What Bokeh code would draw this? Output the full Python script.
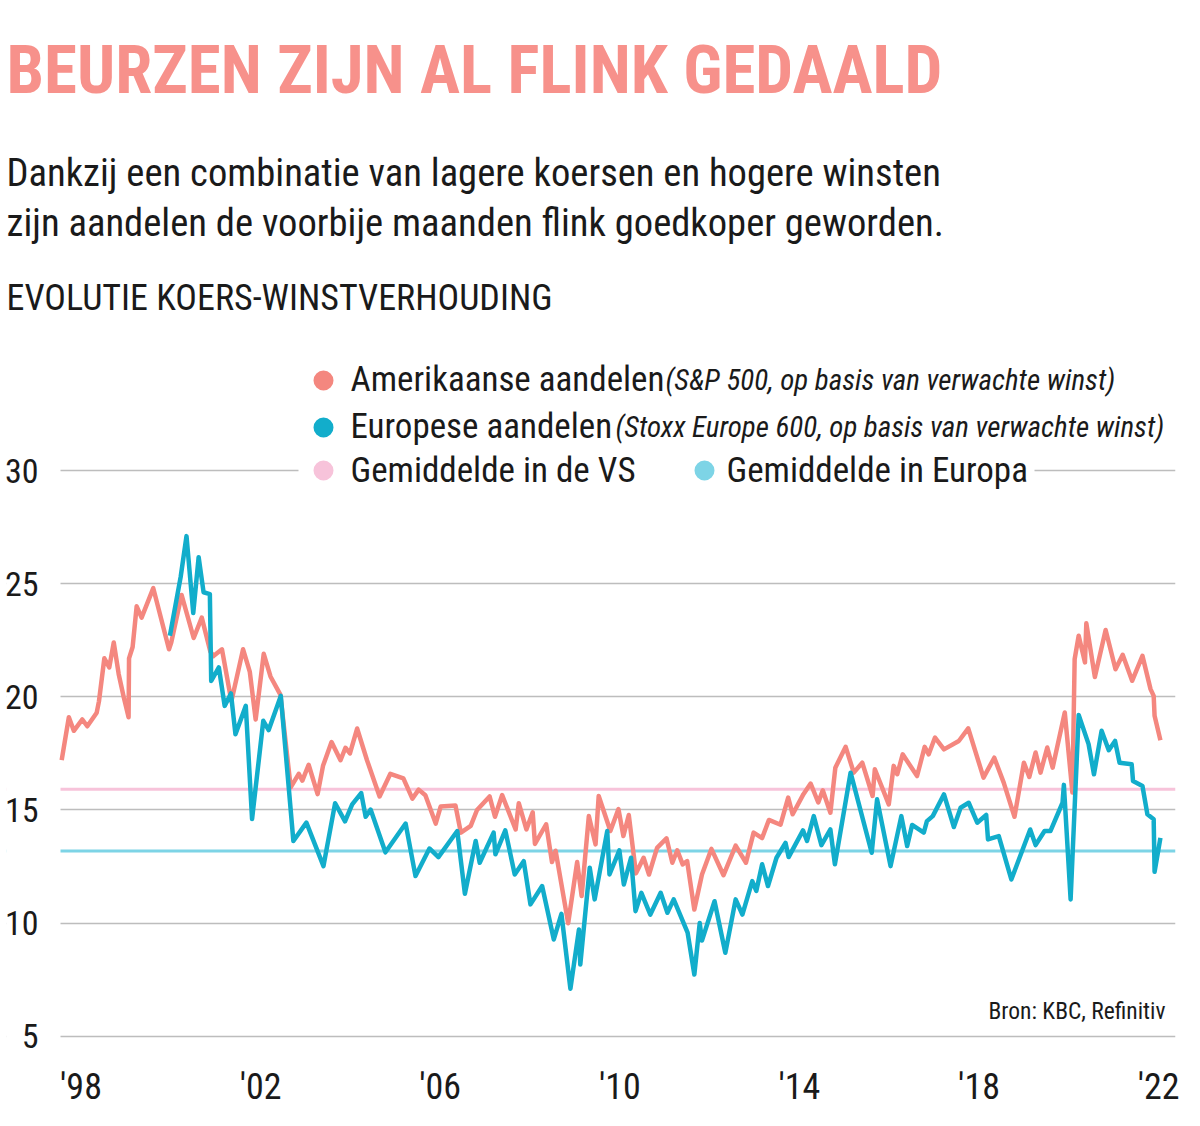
from bokeh.plotting import figure
from bokeh.models import Label, FixedTicker, Range1d, BoxAnnotation, Span
from bokeh.embed import file_html
from bokeh.resources import INLINE

# ---------------- data ----------------
us_year = [1997.57, 1997.73, 1997.84, 1998.03, 1998.14, 1998.35, 1998.40, 1998.52, 1998.63, 1998.73,
           1998.84, 1998.95, 1999.06, 1999.07, 1999.15, 1999.24, 1999.35, 1999.61, 1999.96, 2000.01,
           2000.24, 2000.51, 2000.69, 2000.88, 2000.95, 2001.14, 2001.35, 2001.61, 2001.76, 2001.89,
           2002.07, 2002.22, 2002.44, 2002.67, 2002.85, 2002.93, 2003.07, 2003.27, 2003.39, 2003.58,
           2003.78, 2003.89, 2003.99, 2004.15, 2004.37, 2004.65, 2004.89, 2005.18, 2005.38, 2005.52,
           2005.67, 2005.90, 2006.01, 2006.34, 2006.46, 2006.68, 2006.82, 2007.10, 2007.22, 2007.38,
           2007.68, 2007.75, 2007.92, 2008.06, 2008.11, 2008.36, 2008.49, 2008.57, 2008.85, 2009.05,
           2009.15, 2009.31, 2009.46, 2009.53, 2009.79, 2009.97, 2010.08, 2010.20, 2010.36, 2010.53,
           2010.65, 2010.83, 2011.04, 2011.17, 2011.28, 2011.40, 2011.50, 2011.66, 2011.83, 2012.04,
           2012.31, 2012.58, 2012.81, 2012.98, 2013.17, 2013.32, 2013.58, 2013.75, 2013.85, 2014.09,
           2014.25, 2014.42, 2014.52, 2014.69, 2014.80, 2015.03, 2015.21, 2015.40, 2015.63, 2015.68,
           2015.99, 2016.10, 2016.18, 2016.30, 2016.62, 2016.79, 2016.88, 2017.02, 2017.22, 2017.55,
           2017.76, 2018.10, 2018.34, 2018.55, 2018.79, 2019.00, 2019.12, 2019.26, 2019.37, 2019.52,
           2019.64, 2019.91, 2020.08, 2020.13, 2020.22, 2020.36, 2020.39, 2020.58, 2020.82, 2021.04,
           2021.20, 2021.41, 2021.64, 2021.82, 2021.89, 2021.91, 2022.04]
us_pe = [17.2, 19.1, 18.5, 19.0, 18.7, 19.3, 19.8, 21.7, 21.3, 22.4,
         21.0, 20.0, 19.1, 21.7, 22.2, 24.0, 23.5, 24.8, 22.1, 22.4,
         24.5, 22.6, 23.5, 22.0, 21.8, 22.1, 19.8, 22.1, 21.1, 19.0,
         21.9, 20.9, 20.1, 16.0, 16.6, 16.3, 17.0, 15.7, 16.95, 18.0,
         17.2, 17.75, 17.5, 18.6, 17.2, 15.6, 16.6, 16.4, 15.5, 15.9,
         15.65, 14.4, 15.15, 15.2, 14.0, 14.3, 15.0, 15.6, 14.7, 15.66,
         14.14, 15.3, 14.14, 14.9, 13.5, 14.37, 12.7, 13.2, 10.0, 12.7,
         11.2, 14.73, 13.48, 15.62, 14.07, 15.04, 13.85, 14.78, 12.2, 12.89,
         12.15, 13.33, 13.75, 12.67, 13.22, 12.6, 12.74, 10.6, 12.15, 13.28,
         12.12, 13.43, 12.67, 14.0, 13.76, 14.56, 14.35, 15.55, 14.81, 15.7,
         16.17, 15.33, 15.87, 14.88, 16.87, 17.79, 16.65, 17.09, 15.62, 16.8,
         15.25, 16.95, 16.58, 17.46, 16.5, 17.79, 17.46, 18.2, 17.68, 18.05,
         18.61, 16.43, 17.31, 16.21, 14.7, 17.09, 16.46, 17.54, 16.65, 17.76,
         16.87, 19.31, 15.77, 21.67, 22.7, 21.52, 23.25, 20.88, 22.95, 21.22,
         21.86, 20.71, 21.81, 20.34, 20.04, 19.16, 18.08]

eu_year = [1999.98, 2000.22, 2000.35, 2000.50, 2000.62, 2000.73, 2000.87, 2000.90, 2001.07, 2001.20,
           2001.34, 2001.44, 2001.67, 2001.81, 2002.06, 2002.18, 2002.45, 2002.73, 2003.02, 2003.40,
           2003.66, 2003.88, 2004.04, 2004.24, 2004.34, 2004.45, 2004.78, 2005.23, 2005.45, 2005.76,
           2005.96, 2006.38, 2006.55, 2006.79, 2006.88, 2007.19, 2007.23, 2007.45, 2007.66, 2007.86,
           2008.01, 2008.27, 2008.53, 2008.70, 2008.90, 2009.09, 2009.12, 2009.33, 2009.44, 2009.72,
           2009.77, 2009.99, 2010.09, 2010.25, 2010.35, 2010.48, 2010.68, 2010.91, 2011.06, 2011.20,
           2011.51, 2011.66, 2011.78, 2011.83, 2012.11, 2012.35, 2012.58, 2012.73, 2012.95, 2013.04,
           2013.17, 2013.30, 2013.49, 2013.69, 2013.76, 2014.08, 2014.17, 2014.32, 2014.49, 2014.69,
           2014.79, 2015.14, 2015.61, 2015.73, 2016.03, 2016.27, 2016.40, 2016.51, 2016.77, 2016.84,
           2016.97, 2017.22, 2017.44, 2017.59, 2017.77, 2017.96, 2018.16, 2018.20, 2018.44, 2018.72,
           2019.14, 2019.26, 2019.46, 2019.59, 2019.86, 2019.89, 2020.04, 2020.22, 2020.44, 2020.56,
           2020.73, 2020.89, 2021.03, 2021.13, 2021.40, 2021.43, 2021.64, 2021.75, 2021.89, 2021.91,
           2022.04]
eu_pe = [22.7, 25.3, 27.1, 23.7, 26.17, 24.62, 24.54, 20.7, 21.3, 19.6,
         20.15, 18.35, 19.6, 14.6, 18.94, 18.53, 20.04, 13.63, 14.44, 12.52,
         15.3, 14.5, 15.25, 15.75, 14.7, 15.02, 13.13, 14.4, 12.08, 13.3,
         12.92, 14.07, 11.3, 13.63, 12.67, 14.0, 13.04, 14.1, 12.15, 12.74,
         10.83, 11.64, 9.28, 10.41, 7.1, 9.72, 8.17, 12.45, 11.05, 14.07,
         12.15, 13.22, 11.71, 12.89, 10.53, 11.34, 10.38, 11.34, 10.46, 11.05,
         9.58, 7.73, 10.01, 9.23, 10.97, 8.69, 11.05, 10.38, 11.86, 11.42,
         12.6, 11.64, 12.89, 13.55, 12.92, 14.1, 13.63, 14.73, 13.45, 14.14,
         12.6, 16.65, 13.11, 15.47, 12.52, 14.73, 13.41, 14.34, 14.0, 14.51,
         14.73, 15.69, 14.25, 15.1, 15.32, 14.44, 14.78, 13.7, 13.85, 11.93,
         14.14, 13.45, 14.07, 14.07, 15.32, 16.11, 11.05, 19.2, 17.91, 16.58,
         18.5, 17.64, 18.05, 17.09, 17.02, 16.28, 16.06, 14.81, 14.59, 12.27,
         13.77]

us_avg = 15.92
eu_avg = 13.19

y_ticks = [5, 10, 15, 20, 25, 30]
x_ticks = [1998, 2002, 2006, 2010, 2014, 2018, 2022]
x_tick_labels = ["'98", "'02", "'06", "'10", "'14", "'18", "'22"]

title_text = "BEURZEN ZIJN AL FLINK GEDAALD"
subtitle_1 = "Dankzij een combinatie van lagere koersen en hogere winsten"
subtitle_2 = "zijn aandelen de voorbije maanden flink goedkoper geworden."
section_text = "EVOLUTIE KOERS-WINSTVERHOUDING"
legend_main = ["Amerikaanse aandelen", "Europese aandelen", "Gemiddelde in de VS", "Gemiddelde in Europa"]
legend_note = ["(S&P 500, op basis van verwachte winst)", "(Stoxx Europe 600, op basis van verwachte winst)"]
source_text = "Bron: KBC, Refinitiv"

# ---------------- style ----------------
C_US = "#F4877F"
C_EU = "#12ADCB"
C_US_AVG = "#F7C3DA"
C_EU_AVG = "#7DD4E6"
C_TITLE = "#F7918B"
C_TEXT = "#1A1A1A"
C_GRID = "#BDBDBD"
FONT = "Roboto Condensed"

W, H = 1184, 1110
FL, FR, FT, FB = 6, 1175, 0, 1050          # plot frame in canvas pixels
x0, x1 = 1996.341, 2022.376
y0, y1 = 4.374, 50.766

p = figure(width=W, height=H, x_range=Range1d(x0, x1), y_range=Range1d(y0, y1),
           output_backend="svg", toolbar_location=None, title=None,
           min_border_left=FL, min_border_right=W - FR,
           min_border_top=FT, min_border_bottom=H - FB)
p.outline_line_color = None
p.xgrid.grid_line_color = None
p.ygrid.grid_line_color = C_GRID
p.ygrid.grid_line_width = 1.5

for ax in (p.xaxis[0], p.yaxis[0]):
    ax.axis_line_color = None
    ax.major_tick_line_color = None
    ax.minor_tick_line_color = None
    ax.major_tick_out = 0
    ax.major_tick_in = 0
    ax.minor_tick_out = 0
    ax.major_label_text_font = FONT
    ax.major_label_text_color = C_TEXT

p.yaxis.ticker = FixedTicker(ticks=y_ticks)
p.yaxis.major_label_text_font_size = "34px"
p.yaxis.major_label_standoff = -32
p.xaxis.ticker = FixedTicker(ticks=x_ticks)
p.xaxis.major_label_overrides = {t: l for t, l in zip(x_ticks, x_tick_labels)}
p.xaxis.major_label_text_font_size = "36px"
p.xaxis.major_label_standoff = 15


def dx(px):
    return x0 + (px - FL) / (FR - FL) * (x1 - x0)


def dy(py):
    return y1 - (py - FT) / (FB - FT) * (y1 - y0)


p.add_layout(Span(location=us_avg, dimension="width", line_color=C_US_AVG,
                  line_width=3, level="underlay"))
p.add_layout(Span(location=eu_avg, dimension="width", line_color=C_EU_AVG,
                  line_width=3, level="underlay"))


def white_box(l, r, t, b):
    p.add_layout(BoxAnnotation(left=l, right=r, top=t, bottom=b,
                               left_units="canvas", right_units="canvas",
                               top_units="canvas", bottom_units="canvas",
                               fill_color="white", fill_alpha=1.0, line_color=None,
                               level="underlay"))


white_box(0, 60, 0, H)           # keep the tick-label column free of grid lines
white_box(298, 1034, 458, 482)   # gap in the 30-line behind the last legend row

p.line(us_year, us_pe, line_color=C_US, line_width=4.5, line_join="round")
p.line(eu_year, eu_pe, line_color=C_EU, line_width=4.5, line_join="round")

leg_x = [323, 323, 323, 704]
leg_y = [380, 427, 470, 470]
leg_c = [C_US, C_EU, C_US_AVG, C_EU_AVG]
p.scatter([dx(v) for v in leg_x], [dy(v) for v in leg_y], size=20,
          fill_color=leg_c, line_color=None, marker="circle")


def add_label(x, y, text, size, color=C_TEXT, style="normal", align="left"):
    p.add_layout(Label(x=x, y=y, x_units="canvas", y_units="canvas", text=text,
                       text_font=FONT, text_font_size=size, text_color=color,
                       text_font_style=style, text_align=align,
                       text_baseline="alphabetic"))


add_label(6, 69, title_text, "67px", color=C_TITLE, style="bold")
add_label(6, 172, subtitle_1, "38.6px")
add_label(6, 222, subtitle_2, "38.6px")
add_label(6, 297, section_text, "36px")

add_label(350, 379, legend_main[0], "35px")
add_label(665, 379, legend_note[0], "29px", style="italic")
add_label(350, 426, legend_main[1], "35px")
add_label(615, 426, legend_note[1], "29px", style="italic")
add_label(350, 470, legend_main[2], "35px")
add_label(726, 470, legend_main[3], "35px")

add_label(1165, 1010, source_text, "23.5px", align="right")

open("out.html", "w").write(file_html(p, INLINE))
